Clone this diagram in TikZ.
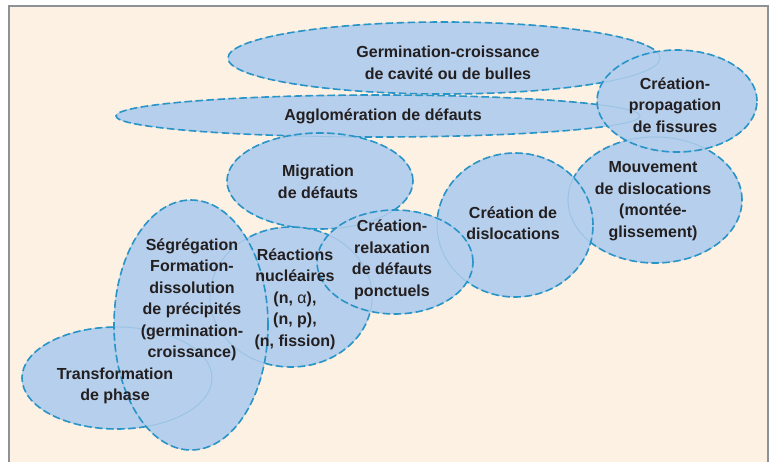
\documentclass[tikz,border=0pt]{standalone}
\usepackage{fontspec}
\setmainfont{Liberation Sans}
\usetikzlibrary{shapes.geometric}
\definecolor{cream}{RGB}{253,241,227}
\definecolor{blobfill}{RGB}{182,207,236}
\definecolor{blobline}{RGB}{40,148,200}
\definecolor{frameg}{RGB}{140,146,152}
\definecolor{txt}{RGB}{35,31,32}
\begin{document}
\begin{tikzpicture}[x=1pt,y=-1pt,
  blob/.style={ellipse, fill=blobfill, draw=blobline, line width=1.6pt,
    dash pattern=on 7.5pt off 3.5pt, inner sep=0pt, outer sep=0pt},
  ghost/.style={draw=blobline, line width=0.9pt, opacity=0.2},
  lbl/.style={font=\bfseries\fontsize{16}{21.5}\selectfont, text=txt,
    align=center, inner sep=0pt}]
\useasboundingbox (0,0) rectangle (774,461);
\fill[white] (0,0) rectangle (774,461);
\draw[fill=cream, draw=frameg, line width=1.5pt] (9,6) rectangle (768,480);

% ellipses, back to front
\node[blob, minimum width=190pt, minimum height=102pt] (trans) at (117,378) {};
\node[blob, minimum width=432pt, minimum height=72pt]  (germ)  at (444,58)  {};
\node[blob, minimum width=524pt, minimum height=42pt]  (agglo) at (378,116) {};
\node[blob, minimum width=174pt, minimum height=126pt] (mouv)  at (655,200) {};
\node[blob, minimum width=160pt, minimum height=102pt] (fiss)  at (677,101) {};
\node[blob, minimum width=156pt, minimum height=144pt] (disl)  at (515,225) {};
\node[blob, minimum width=186pt, minimum height=96pt]  (migr)  at (320,181) {};
\node[blob, minimum width=162pt, minimum height=140pt] (react) at (291,297) {};
\node[blob, minimum width=154pt, minimum height=250pt] (segr)  at (191,325) {};
\node[blob, minimum width=156pt, minimum height=104pt] (relax) at (395,262) {};

% faint hidden outlines
\draw[ghost] (trans.center) ellipse [x radius=95,  y radius=51];
\draw[ghost] (germ.center)  ellipse [x radius=216, y radius=36];
\draw[ghost] (agglo.center) ellipse [x radius=262, y radius=21];
\draw[ghost] (mouv.center)  ellipse [x radius=87,  y radius=63];
\draw[ghost] (fiss.center)  ellipse [x radius=80,  y radius=51];
\draw[ghost] (disl.center)  ellipse [x radius=78,  y radius=72];
\draw[ghost] (migr.center)  ellipse [x radius=93,  y radius=48];
\draw[ghost] (react.center) ellipse [x radius=81,  y radius=70];
\draw[ghost] (segr.center)  ellipse [x radius=77,  y radius=125];
\draw[ghost] (relax.center) ellipse [x radius=78,  y radius=52];

% labels
\node[lbl] (tgerm)  at (448,63)  {Germination-croissance\\de cavité ou de bulles};
\node[lbl] (tagglo) at (383,116) {Agglomération de défauts};
\node[lbl] (tfiss)  at (675,105) {Création-\\propagation\\de fissures};
\node[lbl] (tmigr)  at (318,182) {Migration\\de défauts};
\node[lbl] (tmouv)  at (653,201) {Mouvement\\de dislocations\\(montée-\\glissement)};
\node[lbl] (tdisl)  at (513,223) {Création de\\dislocations};
\node[lbl] (trelax) at (392,260) {Création-\\relaxation\\de défauts\\ponctuels};
\node[lbl] (treact) at (295,299) {Réactions\\nucléaires\\(n, {\mdseries α}),\\(n, p),\\(n, fission)};
\node[lbl] (tsegr)  at (192,300) {Ségrégation\\Formation-\\dissolution\\de précipités\\(germination-\\croissance)};
\node[lbl] (ttrans) at (115,386) {Transformation\\de phase};
\end{tikzpicture}
\end{document}
